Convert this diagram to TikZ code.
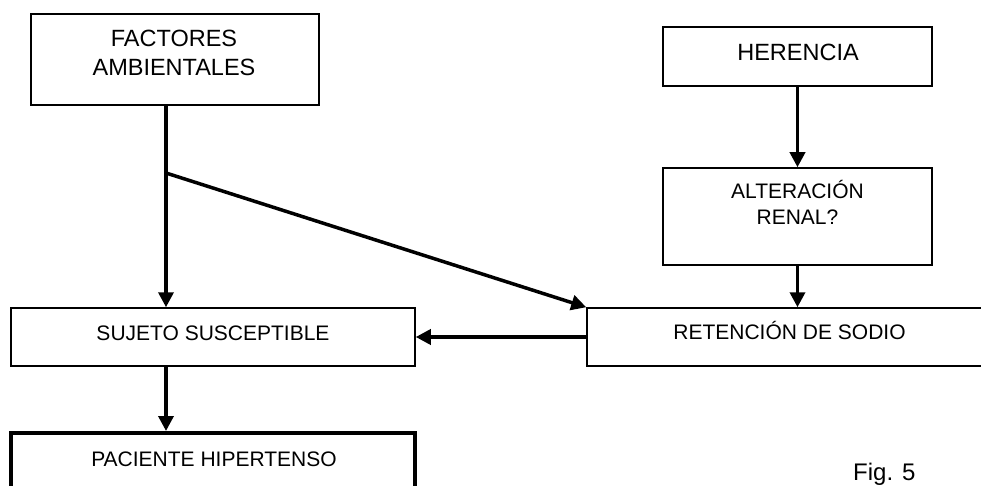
\documentclass[tikz,border=0pt]{standalone}
\usepackage{fontspec}
\setmainfont{Liberation Sans}
\usetikzlibrary{arrows.meta}

\tikzset{
  box/.style={draw, line width=1.5pt, rectangle, inner sep=0pt},
  lbl/.style={inner sep=0pt, anchor=base, align=center},
  flow/.style={line width=3.5pt, -{Triangle[length=15pt,width=15pt]}}
}

\begin{document}
\begin{tikzpicture}[x=1pt, y=-1pt]
    \useasboundingbox (0,0) rectangle (981,486);

    % Boxes
    \node[box, minimum width=288pt, minimum height=91pt] (fact) at (175,59.5) {};
    \node[box, minimum width=269pt, minimum height=59pt] (her) at (797.5,56.5) {};
    \node[box, minimum width=269pt, minimum height=97pt] (alt) at (797.5,216.5) {};
    \node[box, minimum width=405pt, minimum height=58pt] (ret) at (789.5,337) {};
    \node[box, minimum width=404pt, minimum height=58pt] (suj) at (213,337) {};
    \node[box, line width=4pt, minimum width=404pt, minimum height=110pt] (pac) at (213,488) {};

    % Texts (base = last line)
    \node[lbl, font=\fontsize{23.5}{29}\selectfont] (facttxt) at (174,76) {FACTORES\\AMBIENTALES};
    \node[lbl, font=\fontsize{23.5}{29}\selectfont] (hertxt) at (798,61) {HERENCIA};
    \node[lbl, font=\fontsize{21}{25}\selectfont] (alttxt) at (797.5,224) {ALTERACIÓN\\RENAL?};
    \node[lbl, font=\fontsize{21}{25}\selectfont] (rettxt) at (789.5,339.5) {RETENCIÓN DE SODIO};
    \node[lbl, font=\fontsize{21}{25}\selectfont] (sujtxt) at (213,340) {SUJETO SUSCEPTIBLE};
    \node[lbl, font=\fontsize{21}{25}\selectfont] (pactxt) at (214,466) {PACIENTE HIPERTENSO};
    \node[lbl, anchor=base west, font=\fontsize{24}{28}\selectfont] (fig) at (853,480.5) {Fig. 5};

    % Connectors
    \coordinate (fork) at (166,173);
    \draw[line width=3.5pt] (fork |- fact.south) -- (fork);
    \draw[flow] (fork) -- (fork |- suj.north);
    \draw[flow] (fork) -- (ret.north west);
    \draw[flow] (her.south) -- (alt.north);
    \draw[flow] (alt.south) -- (alt.south |- ret.north);
    \draw[flow] (ret.west) -- (suj.east);
    \draw[flow] (fork |- suj.south) -- (fork |- pac.north);
\end{tikzpicture}
\end{document}
